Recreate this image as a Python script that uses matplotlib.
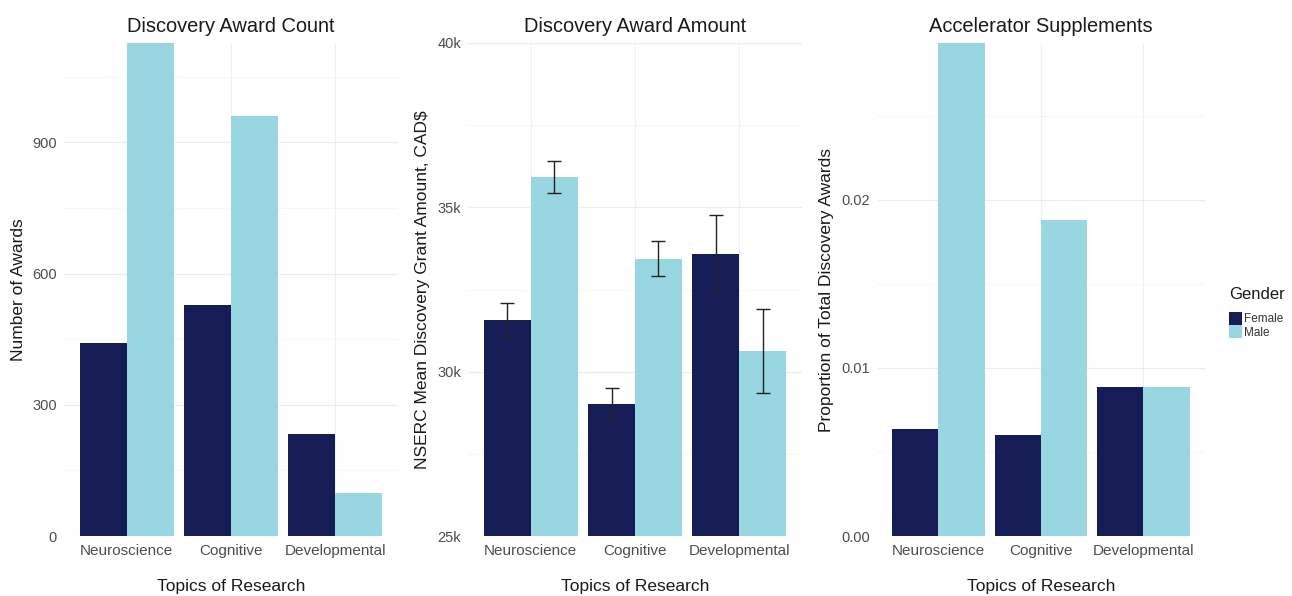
import matplotlib
matplotlib.use("Agg")
import matplotlib.pyplot as plt
from matplotlib.patches import Patch
from matplotlib.ticker import FixedLocator, FuncFormatter
import numpy as np

plt.rcParams['font.family'] = ['Liberation Sans', 'DejaVu Sans']

# Research topics and gender groups
topics = ['Neuroscience', 'Cognitive', 'Developmental']
genders = ['Female', 'Male']
colors = {'Female': '#161d56', 'Male': '#98d7e2'}

# Discovery award counts
count_female = [442, 528, 233]
count_male = [1127, 959, 99]

# Mean discovery grant amount (CAD$) with standard error
amount_female = [31580, 29020, 33580]
amount_male = [35930, 33440, 30620]
amount_female_se = [505, 490, 1200]
amount_male_se = [490, 540, 1280]

# Accelerator supplements as proportion of discovery awards
accel_female = [0.00638, 0.00602, 0.00885]
accel_male = [0.02932, 0.01881, 0.00885]

W, H = 1292, 596
fig = plt.figure(figsize=(W / 100, H / 100), dpi=100)
fig.patch.set_facecolor('white')

y_top, y_bot = 43, 536
panels = [(64, 398), (468, 802), (877, 1205)]


def make_axes(x0, x1):
    return fig.add_axes([x0 / W, 1 - y_bot / H, (x1 - x0) / W, (y_bot - y_top) / H])


def style(ax, title, ylabel, ylim, major, minor, fmt, ylab_x):
    x = np.arange(len(topics))
    ax.set_xlim(-0.6, len(topics) - 0.4)
    ax.set_ylim(*ylim)
    ax.set_xticks(x)
    ax.set_xticklabels(topics)
    ax.yaxis.set_major_locator(FixedLocator(major))
    ax.yaxis.set_minor_locator(FixedLocator(minor))
    ax.yaxis.set_major_formatter(FuncFormatter(fmt))
    for s in ax.spines.values():
        s.set_visible(False)
    ax.tick_params(axis='both', which='both', length=0, labelcolor='#4d4d4d')
    ax.tick_params(axis='x', pad=6, labelsize=11)
    ax.tick_params(axis='y', pad=5, labelsize=10.5)
    ax.grid(True, which='major', axis='y', color='#ebebeb', lw=0.9)
    ax.grid(True, which='major', axis='x', color='#f0f0f0', lw=0.9)
    ax.grid(True, which='minor', axis='y', color='#f4f4f4', lw=0.6)
    ax.set_axisbelow(True)
    ax.set_title(title, fontsize=14.4, color='#1a1a1a', pad=8)
    ax.set_ylabel(ylabel, fontsize=12.5, color='#1a1a1a')
    ax.yaxis.set_label_coords(ylab_x, 0.5)
    ax.set_xlabel('Topics of Research', fontsize=12.5, color='#1a1a1a')
    ax.xaxis.set_label_coords(0.5, -0.087)


def draw_bars(ax, female, male, female_err=None, male_err=None):
    x = np.arange(len(topics))
    w = 0.45
    ax.bar(x - w / 2, female, w, color=colors['Female'], zorder=2)
    ax.bar(x + w / 2, male, w, color=colors['Male'], zorder=2)
    if female_err is not None:
        ax.errorbar(x - w / 2, female, yerr=female_err, fmt='none',
                    ecolor='#222222', elinewidth=1, capsize=5, capthick=1, zorder=3)
        ax.errorbar(x + w / 2, male, yerr=male_err, fmt='none',
                    ecolor='#222222', elinewidth=1, capsize=5, capthick=1, zorder=3)


ax1 = make_axes(*panels[0])
draw_bars(ax1, count_female, count_male)
style(ax1, 'Discovery Award Count', 'Number of Awards', (0, 1127),
      [0, 300, 600, 900], [150, 450, 750, 1050],
      lambda v, p: f'{int(v)}', -0.114)

ax2 = make_axes(*panels[1])
draw_bars(ax2, amount_female, amount_male, amount_female_se, amount_male_se)
style(ax2, 'Discovery Award Amount', 'NSERC Mean Discovery Grant Amount, CAD$',
      (25000, 40000), [25000, 30000, 35000, 40000], [27500, 32500, 37500],
      lambda v, p: f'{int(v / 1000)}k', -0.114)

ax3 = make_axes(*panels[2])
draw_bars(ax3, accel_female, accel_male)
style(ax3, 'Accelerator Supplements', 'Proportion of Total Discovery Awards',
      (0, 0.02932), [0.0, 0.01, 0.02], [0.005, 0.015, 0.025],
      lambda v, p: f'{v:.2f}', -0.131)

handles = [Patch(facecolor=colors[g], edgecolor='none') for g in genders]
leg = fig.legend(handles, genders, title='Gender', loc='upper left',
                 bbox_to_anchor=(1229 / W, 1 - 287 / H), frameon=False,
                 fontsize=8.5, title_fontsize=12, handlelength=1.1,
                 handleheight=1.3, labelspacing=0.0, handletextpad=0.15,
                 borderpad=0, borderaxespad=0)
leg._legend_box.align = 'left'
leg._legend_box.sep = 7
leg.get_title().set_color('#1a1a1a')
for t in leg.get_texts():
    t.set_color('#333333')

fig.savefig('out.png', dpi=100, facecolor='white')
